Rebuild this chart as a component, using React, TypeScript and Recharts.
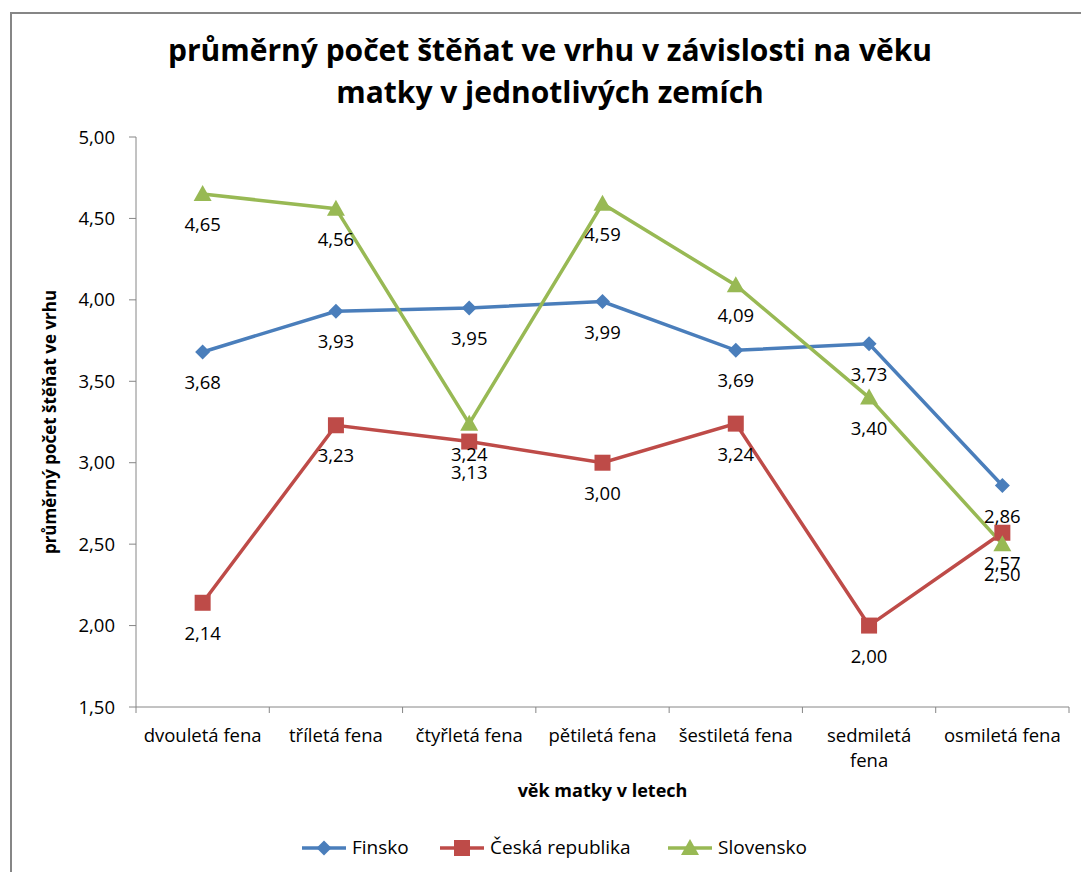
import React from 'react';
import { LineChart, Line, XAxis, YAxis, LabelList } from 'recharts';

// categories (x axis) and how each tick label wraps
const categories = [
  'dvouletá fena',
  'tříletá fena',
  'čtyřletá fena',
  'pětiletá fena',
  'šestiletá fena',
  'sedmiletá fena',
  'osmiletá fena',
];
const tickLines = [
  ['dvouletá fena'],
  ['tříletá fena'],
  ['čtyřletá fena'],
  ['pětiletá fena'],
  ['šestiletá fena'],
  ['sedmiletá', 'fena'],
  ['osmiletá fena'],
];

const finsko = [3.68, 3.93, 3.95, 3.99, 3.69, 3.73, 2.86];
const ceskaRepublika = [2.14, 3.23, 3.13, 3.0, 3.24, 2.0, 2.57];
const slovensko = [4.65, 4.56, 3.24, 4.59, 4.09, 3.4, 2.5];

const yTicks = [1.5, 2, 2.5, 3, 3.5, 4, 4.5, 5];

const FONT = '"Open Sans", "DejaVu Sans", sans-serif';
const BLUE = '#4a7ebb';
const RED = '#be4b48';
const GREEN = '#98b954';
const AXIS = '#868686';
const FS = 18.5;

const W = 1081;
const H = 872;
const PLOT_LEFT = 136;
const PLOT_RIGHT = 1069;
const HALF_BAND = (PLOT_RIGHT - PLOT_LEFT) / categories.length / 2;

const data = categories.map((c, i) => ({
  name: c,
  fi: finsko[i],
  cz: ceskaRepublika[i],
  sk: slovensko[i],
}));

const fmt = (v: any) => Number(v).toFixed(2).replace('.', ',');

// markers
const Diamond = (p: any) => {
  const { cx, cy } = p;
  if (cx == null || cy == null) return null;
  const r = 7.5;
  return <polygon points={`${cx},${cy - r} ${cx + r},${cy} ${cx},${cy + r} ${cx - r},${cy}`} fill={BLUE} />;
};
const Square = (p: any) => {
  const { cx, cy } = p;
  if (cx == null || cy == null) return null;
  const r = 8;
  return <rect x={cx - r} y={cy - r} width={r * 2} height={r * 2} fill={RED} />;
};
const Triangle = (p: any) => {
  const { cx, cy } = p;
  if (cx == null || cy == null) return null;
  return <polygon points={`${cx},${cy - 9} ${cx + 9},${cy + 7} ${cx - 9},${cy + 7}`} fill={GREEN} />;
};

const XTick = (p: any) => {
  const { x, y, index } = p;
  const lines = tickLines[index] || [];
  const last = index === categories.length - 1;
  return (
    <g>
      <line x1={x - HALF_BAND} x2={x - HALF_BAND} y1={y} y2={y + 6} stroke={AXIS} />
      {last && <line x1={x + HALF_BAND} x2={x + HALF_BAND} y1={y} y2={y + 6} stroke={AXIS} />}
      {lines.map((t, i) => (
        <text key={i} x={x} y={y + 35 + i * 25} textAnchor="middle" fontSize={FS} fontFamily={FONT} fill="#000">
          {t}
        </text>
      ))}
    </g>
  );
};

const legendItems = [
  { name: 'Finsko', color: BLUE, Marker: Diamond },
  { name: 'Česká republika', color: RED, Marker: Square },
  { name: 'Slovensko', color: GREEN, Marker: Triangle },
];

export default function App() {
  return (
    <div style={{ position: 'absolute', left: 0, top: 0, width: W, height: H, overflow: 'hidden', background: '#fff', fontFamily: FONT }}>
      <div style={{ position: 'absolute', left: 10, top: 12, width: W + 20, height: H + 20, border: `2px solid ${AXIS}` }} />
      <div style={{ position: 'absolute', left: 0, top: 29, width: 1100, textAlign: 'center', fontSize: 30, fontWeight: 700, lineHeight: '42px', color: '#000' }}>
        průměrný počet štěňat ve vrhu v závislosti na věku
        <br />
        matky v jednotlivých zemích
      </div>
      <div style={{ position: 'absolute', left: 0, top: 0 }}>
        <LineChart width={W} height={H} data={data} margin={{ top: 137, right: W - PLOT_RIGHT, bottom: 105, left: 0 }}>
          <XAxis
            dataKey="name"
            padding={{ left: HALF_BAND, right: HALF_BAND }}
            height={60}
            stroke={AXIS}
            tickLine={false}
            tickSize={0}
            tickMargin={0}
            interval={0}
            tick={<XTick />}
            label={{ value: 'věk matky v letech', position: 'insideBottom', offset: -30, fontSize: 18, fontWeight: 700, fontFamily: FONT, fill: '#000' }}
          />
          <YAxis
            width={PLOT_LEFT}
            domain={[1.5, 5]}
            ticks={yTicks}
            tickFormatter={fmt}
            stroke={AXIS}
            tickSize={7}
            tickMargin={14}
            tick={{ fontSize: FS, fontFamily: FONT, fill: '#000' }}
            label={{ value: 'průměrný počet štěňat ve vrhu', angle: -90, position: 'insideLeft', offset: 50, fontSize: 17, fontWeight: 700, fontFamily: FONT, fill: '#000', style: { textAnchor: 'middle' } }}
          />
          <Line dataKey="fi" stroke={BLUE} strokeWidth={3.5} dot={<Diamond />} activeDot={false} isAnimationActive={false}>
            <LabelList dataKey="fi" position="bottom" offset={24} formatter={fmt} fontSize={FS} fontFamily={FONT} fill="#000" />
          </Line>
          <Line dataKey="cz" stroke={RED} strokeWidth={3.5} dot={<Square />} activeDot={false} isAnimationActive={false}>
            <LabelList dataKey="cz" position="bottom" offset={24} formatter={fmt} fontSize={FS} fontFamily={FONT} fill="#000" />
          </Line>
          <Line dataKey="sk" stroke={GREEN} strokeWidth={3.5} dot={<Triangle />} activeDot={false} isAnimationActive={false}>
            <LabelList dataKey="sk" position="bottom" offset={24} formatter={fmt} fontSize={FS} fontFamily={FONT} fill="#000" />
          </Line>
        </LineChart>
      </div>
      <svg style={{ position: 'absolute', left: 0, top: 830 }} width={W} height={40}>
        {legendItems.map((it, i) => {
          const x0 = [302, 440, 668][i];
          const M = it.Marker;
          return (
            <g key={it.name}>
              <line x1={x0} x2={x0 + 44} y1={18} y2={18} stroke={it.color} strokeWidth={3.5} />
              <M cx={x0 + 22} cy={18} />
              <text x={x0 + 50} y={24} fontSize={19} fontFamily={FONT} fill="#000">
                {it.name}
              </text>
            </g>
          );
        })}
      </svg>
    </div>
  );
}
